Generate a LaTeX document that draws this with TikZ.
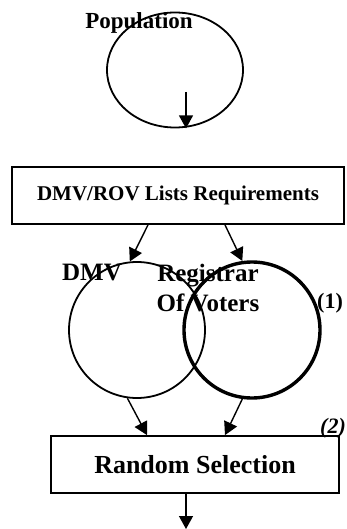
\documentclass[tikz,border=0pt]{standalone}
\usepackage{fontspec}
\setmainfont{Liberation Serif}
\usetikzlibrary{arrows.meta,shapes.geometric}

\begin{document}
\begin{tikzpicture}[x=1pt,y=-1pt,
  flow/.style={-{Triangle[length=13pt,width=14pt]}, line width=1.4pt},
  stage/.style={draw, line width=1.8pt, minimum height=57pt, inner sep=0pt},
  list/.style={circle, draw, minimum size=136pt, inner sep=0pt},
  tag/.style={inner sep=0pt, font=\bfseries\fontsize{25}{30}\selectfont}]
\useasboundingbox (0,0) rectangle (347,529);

% source population
\node[tag, font=\bfseries\fontsize{23}{26}\selectfont] (poplbl) at (139,23) {Population};
\node[ellipse, draw, line width=1.8pt, minimum width=136pt, minimum height=115pt, inner sep=0pt] (pop) at (175,70) {};
\coordinate (popdrop) at (186,92);
\draw[flow] (popdrop) -- (popdrop |- pop.south);

% the two lists
\node[stage, minimum width=332pt, font=\bfseries\fontsize{21}{24}\selectfont] (lists) at (178,195.5) {DMV/ROV Lists Requirements};
\node[list, line width=1.8pt] (dmv) at (137,330) {};
\node[list, line width=3.4pt] (rov) at (252,330) {};
\node[tag] (dmvlbl) at (92,273) {DMV};
\node[tag, align=center] (rovlbl) at (208,288) {Registrar\\ Of Voters};
\node[tag, font=\bfseries\fontsize{22}{26}\selectfont] (one) at (330,303) {(1)};

\draw[flow] ([xshift=-30pt]lists.south) -- (dmv.96);
\draw[flow] ([xshift=47pt]lists.south) -- (rov.98);

% selection step
\node[stage, minimum width=288pt, font=\bfseries\fontsize{26}{30}\selectfont] (pick) at (195,464.5) {Random Selection};
\node[tag, font=\bfseries\itshape\fontsize{22}{26}\selectfont] (two) at (333,428) {(2)};

\draw[flow] (dmv.262) -- ([xshift=-48pt]pick.north);
\draw[flow] (rov.262) -- ([xshift=30pt]pick.north);
\coordinate (out) at (186,529);
\draw[flow] ([xshift=-9pt]pick.south) -- (out);
\end{tikzpicture}
\end{document}
